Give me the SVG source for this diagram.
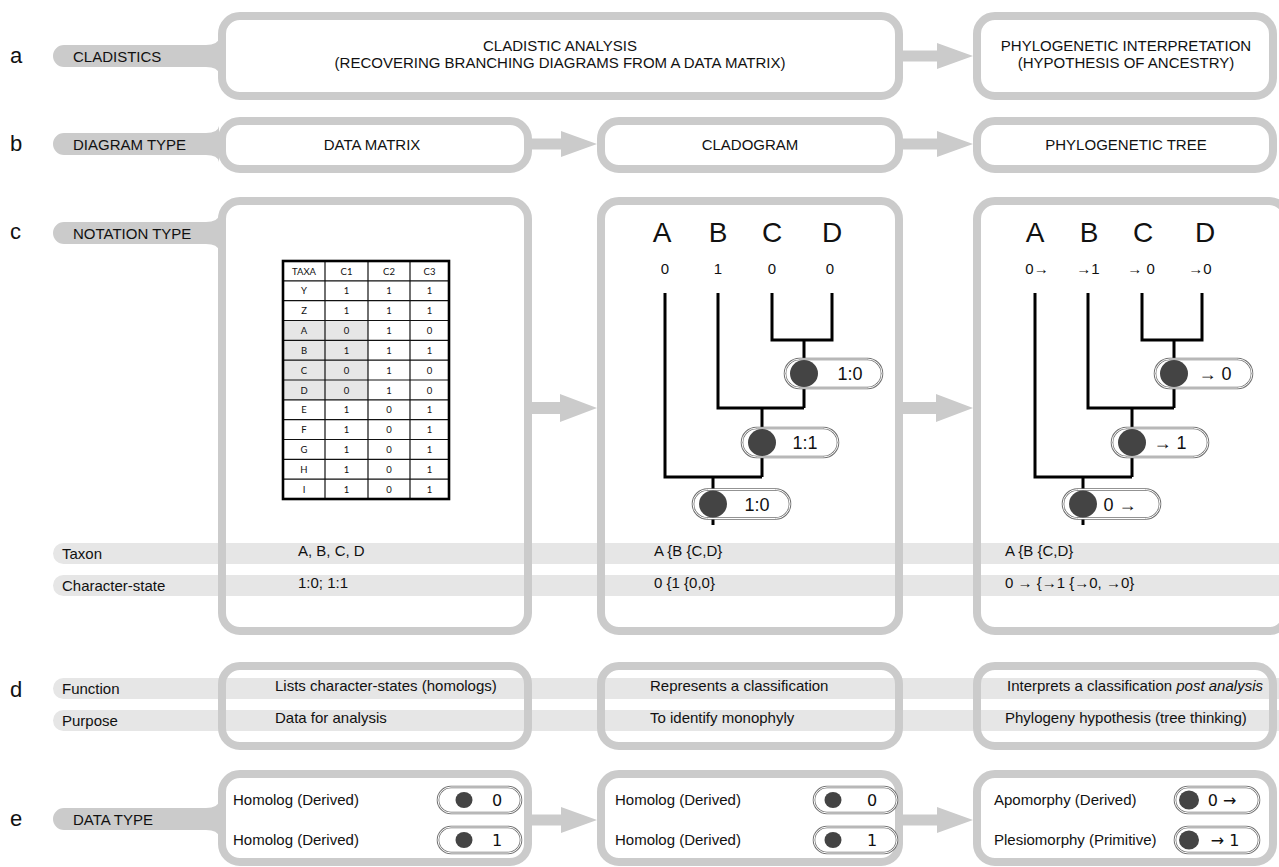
<svg xmlns="http://www.w3.org/2000/svg" width="1279" height="867" viewBox="0 0 1279 867">
<style>
.box{fill:none;stroke:#cbcbcb;stroke-width:8}
.lbl{fill:#cbcbcb}
.band{fill:#e6e6e6}
.arr{fill:#cbcbcb}
.t{font-family:"Liberation Sans",Arial,Helvetica,sans-serif;font-size:15px;fill:#111}
.m{text-anchor:middle}
.let{font-family:"Liberation Sans",Arial,sans-serif;font-size:22px;fill:#111}
.big{font-family:"Liberation Sans",Arial,sans-serif;font-size:28px;fill:#111;text-anchor:middle}
.num{font-family:"Liberation Sans",Arial,sans-serif;font-size:15px;fill:#111;text-anchor:middle}
.pt{font-family:"Liberation Sans",Arial,sans-serif;font-size:18px;fill:#111;text-anchor:middle}
.et{font-family:"DejaVu Sans",sans-serif;font-size:16px;fill:#111;text-anchor:middle}
.tree{fill:none;stroke:#000;stroke-width:3}
.po{fill:#fff;stroke:#707070;stroke-width:2.6}
.pi{fill:none;stroke:#fff;stroke-width:1}
.dot{fill:#444}
.tb{font-family:Lato,"Liberation Sans",sans-serif;font-size:9.5px;fill:#111;text-anchor:middle}
.grid{stroke:#111;stroke-width:1.2;fill:none}
</style>

<g id="bands">
<rect class="band" x="53" y="543" width="1240" height="21" rx="10.5"/>
<rect class="band" x="53" y="575" width="1240" height="21" rx="10.5"/>
<rect class="band" x="53" y="678" width="1240" height="21" rx="10.5"/>
<rect class="band" x="53" y="710" width="1240" height="21" rx="10.5"/>
<text class="t" x="62" y="559">Taxon</text>
<text class="t" x="62" y="591">Character-state</text>
<text class="t" x="62" y="694">Function</text>
<text class="t" x="62" y="726">Purpose</text>
</g>

<g id="row-labels">
<text class="let" x="10" y="63">a</text>
<text class="let" x="10" y="151">b</text>
<text class="let" x="10" y="239">c</text>
<text class="let" x="10" y="697">d</text>
<text class="let" x="10" y="826">e</text>
<path class="lbl" d="M64,45 H206 Q218,45 219,38 V74 Q218,67 206,67 H64 A11,11 0 0 1 64,45 Z"/>
<path class="lbl" d="M64,133 H206 Q218,133 219,126 V162 Q218,155 206,155 H64 A11,11 0 0 1 64,133 Z"/>
<path class="lbl" d="M64,222 H206 Q218,222 219,215 V251 Q218,244 206,244 H64 A11,11 0 0 1 64,222 Z"/>
<path class="lbl" d="M64,808 H206 Q218,808 219,801 V837 Q218,830 206,830 H64 A11,11 0 0 1 64,808 Z"/>
<text class="t" x="73" y="62">CLADISTICS</text>
<text class="t" x="73" y="150">DIAGRAM TYPE</text>
<text class="t" x="73" y="239">NOTATION TYPE</text>
<text class="t" x="73" y="825">DATA TYPE</text>
</g>

<g id="connectors">
<path class="arr" d="M899,50.5 H937 V43 L973,56 L937,69 V61.5 H899 Z"/>
<path class="arr" d="M528,138.5 H561 V131 L597,144 L561,157 V149.5 H528 Z"/>
<path class="arr" d="M899,138.5 H937 V131 L973,144 L937,157 V149.5 H899 Z"/>
<path class="arr" d="M528,402 H560 V394 L597,408 L560,422 V414 H528 Z"/>
<path class="arr" d="M899,402 H936 V394 L973,408 L936,422 V414 H899 Z"/>
<path class="arr" d="M528,814.5 H561 V807 L597,820 L561,833 V825.5 H528 Z"/>
<path class="arr" d="M899,814.5 H937 V807 L973,820 L937,833 V825.5 H899 Z"/>
</g>

<g id="a1">
<rect class="box" x="222" y="16" width="677" height="80" rx="18"/>
<text class="t m" x="560" y="51">CLADISTIC ANALYSIS</text>
<text class="t m" x="560" y="68">(RECOVERING BRANCHING DIAGRAMS FROM A DATA MATRIX)</text>
</g>
<g id="a2">
<rect class="box" x="977" y="16" width="296" height="80" rx="18"/>
<text class="t m" x="1126" y="51">PHYLOGENETIC INTERPRETATION</text>
<text class="t m" x="1126" y="68">(HYPOTHESIS OF ANCESTRY)</text>
</g>

<g id="b1">
<rect class="box" x="222" y="121" width="306" height="48" rx="18"/>
<text class="t m" x="372" y="150">DATA MATRIX</text>
</g>
<g id="b2">
<rect class="box" x="601" y="121" width="298" height="48" rx="18"/>
<text class="t m" x="750" y="150">CLADOGRAM</text>
</g>
<g id="b3">
<rect class="box" x="977" y="121" width="296" height="48" rx="18"/>
<text class="t m" x="1126" y="150">PHYLOGENETIC TREE</text>
</g>

<g id="c1">
<rect class="box" x="222" y="201" width="306" height="430" rx="18"/>
<g id="matrix">
<rect x="283" y="320.5" width="85" height="79.3" fill="#e6e6e6"/>
<path class="grid" d="M325,261 V499 M368,261 V499 M410,261 V499 M283,280.8 H449 M283,300.7 H449 M283,320.5 H449 M283,340.3 H449 M283,360.2 H449 M283,380 H449 M283,399.8 H449 M283,419.7 H449 M283,439.5 H449 M283,459.3 H449 M283,479.2 H449"/>
<rect x="283" y="261" width="166" height="238" fill="none" stroke="#000" stroke-width="2.6"/>
<text class="tb" x="304" y="274.5">TAXA</text><text class="tb" x="346.5" y="274.5">C1</text><text class="tb" x="389" y="274.5">C2</text><text class="tb" x="429.5" y="274.5">C3</text>
<text class="tb" x="304" y="294.3">Y</text><text class="tb" x="346.5" y="294.3">1</text><text class="tb" x="389" y="294.3">1</text><text class="tb" x="429.5" y="294.3">1</text>
<text class="tb" x="304" y="314.1">Z</text><text class="tb" x="346.5" y="314.1">1</text><text class="tb" x="389" y="314.1">1</text><text class="tb" x="429.5" y="314.1">1</text>
<text class="tb" x="304" y="334">A</text><text class="tb" x="346.5" y="334">0</text><text class="tb" x="389" y="334">1</text><text class="tb" x="429.5" y="334">0</text>
<text class="tb" x="304" y="353.8">B</text><text class="tb" x="346.5" y="353.8">1</text><text class="tb" x="389" y="353.8">1</text><text class="tb" x="429.5" y="353.8">1</text>
<text class="tb" x="304" y="373.6">C</text><text class="tb" x="346.5" y="373.6">0</text><text class="tb" x="389" y="373.6">1</text><text class="tb" x="429.5" y="373.6">0</text>
<text class="tb" x="304" y="393.5">D</text><text class="tb" x="346.5" y="393.5">0</text><text class="tb" x="389" y="393.5">1</text><text class="tb" x="429.5" y="393.5">0</text>
<text class="tb" x="304" y="413.3">E</text><text class="tb" x="346.5" y="413.3">1</text><text class="tb" x="389" y="413.3">0</text><text class="tb" x="429.5" y="413.3">1</text>
<text class="tb" x="304" y="433.1">F</text><text class="tb" x="346.5" y="433.1">1</text><text class="tb" x="389" y="433.1">0</text><text class="tb" x="429.5" y="433.1">1</text>
<text class="tb" x="304" y="453">G</text><text class="tb" x="346.5" y="453">1</text><text class="tb" x="389" y="453">0</text><text class="tb" x="429.5" y="453">1</text>
<text class="tb" x="304" y="472.8">H</text><text class="tb" x="346.5" y="472.8">1</text><text class="tb" x="389" y="472.8">0</text><text class="tb" x="429.5" y="472.8">1</text>
<text class="tb" x="304" y="492.6">I</text><text class="tb" x="346.5" y="492.6">1</text><text class="tb" x="389" y="492.6">0</text><text class="tb" x="429.5" y="492.6">1</text>
</g>
<text class="t" x="298" y="556">A, B, C, D</text>
<text class="t" x="298" y="588">1:0; 1:1</text>
</g>

<g id="c2">
<rect class="box" x="601" y="201" width="298" height="430" rx="18"/>
<g id="cladogram">
<text class="big" x="662" y="242">A</text><text class="big" x="718" y="242">B</text><text class="big" x="772" y="242">C</text><text class="big" x="832" y="242">D</text>
<text class="num" x="665" y="274">0</text><text class="num" x="718" y="274">1</text><text class="num" x="772" y="274">0</text><text class="num" x="830" y="274">0</text>
<path class="tree" d="M665,293 V477 H762 M718,293 V408 H804 M772,293 V340 H832 V293 M804,340 V408 M762,408 V477 M713,477 V525"/>
<rect class="po" x="785" y="359" width="97" height="29" rx="14.5"/><rect class="pi" x="785" y="359" width="97" height="29" rx="14.5"/>
<ellipse class="dot" cx="804" cy="373.5" rx="14" ry="13.5"/>
<text class="pt" x="850" y="380">1:0</text>
<rect class="po" x="742" y="428" width="96" height="29" rx="14.5"/><rect class="pi" x="742" y="428" width="96" height="29" rx="14.5"/>
<ellipse class="dot" cx="762" cy="442.5" rx="14" ry="13.5"/>
<text class="pt" x="805" y="449">1:1</text>
<rect class="po" x="693" y="489.5" width="97" height="29" rx="14.5"/><rect class="pi" x="693" y="489.5" width="97" height="29" rx="14.5"/>
<ellipse class="dot" cx="713" cy="504" rx="14" ry="13.5"/>
<text class="pt" x="757" y="510.5">1:0</text>
</g>
<text class="t" x="654" y="556">A {B {C,D}</text>
<text class="t" x="654" y="588">0 {1 {0,0}</text>
</g>

<g id="c3">
<rect class="box" x="977" y="201" width="310" height="430" rx="18"/>
<g id="phylotree" transform="translate(370,0)">
<text class="big" x="665" y="242">A</text><text class="big" x="719" y="242">B</text><text class="big" x="773" y="242">C</text><text class="big" x="835" y="242">D</text>
<text class="num" x="667" y="274">0→</text><text class="num" x="718" y="274">→1</text><text class="num" x="771" y="274">→ 0</text><text class="num" x="830" y="274">→0</text>
<path class="tree" d="M665,293 V477 H762 M718,293 V408 H804 M772,293 V340 H832 V293 M804,340 V408 M762,408 V477 M713,477 V525"/>
<rect class="po" x="785" y="359" width="97" height="29" rx="14.5"/><rect class="pi" x="785" y="359" width="97" height="29" rx="14.5"/>
<ellipse class="dot" cx="804" cy="373.5" rx="14" ry="13.5"/>
<text class="pt" x="845" y="380">→ 0</text>
<rect class="po" x="742" y="428" width="96" height="29" rx="14.5"/><rect class="pi" x="742" y="428" width="96" height="29" rx="14.5"/>
<ellipse class="dot" cx="762" cy="442.5" rx="14" ry="13.5"/>
<text class="pt" x="800" y="449">→ 1</text>
<rect class="po" x="693" y="489.5" width="97" height="29" rx="14.5"/><rect class="pi" x="693" y="489.5" width="97" height="29" rx="14.5"/>
<ellipse class="dot" cx="713" cy="504" rx="14" ry="13.5"/>
<text class="pt" x="750" y="510.5">0 →</text>
</g>
<text class="t" x="1005" y="556">A {B {C,D}</text>
<text class="t" x="1005" y="588">0 → {→1 {→0, →0}</text>
</g>

<g id="d1">
<rect class="box" x="222" y="666" width="306" height="80" rx="18"/>
<text class="t" x="275" y="691">Lists character-states (homologs)</text>
<text class="t" x="275" y="723">Data for analysis</text>
</g>
<g id="d2">
<rect class="box" x="601" y="666" width="298" height="80" rx="18"/>
<text class="t" x="650" y="691">Represents a classification</text>
<text class="t" x="650" y="723">To identify monophyly</text>
</g>
<g id="d3">
<rect class="box" x="977" y="666" width="296" height="80" rx="18"/>
<text class="t" x="1007" y="691">Interprets a classification <tspan font-style="italic">post analysis</tspan></text>
<text class="t" x="1005" y="723">Phylogeny hypothesis (tree thinking)</text>
</g>

<g id="e1">
<rect class="box" x="222" y="774" width="306" height="88" rx="18"/>
<text class="t" x="233" y="805">Homolog (Derived)</text>
<text class="t" x="233" y="845">Homolog (Derived)</text>
<rect class="po" x="438" y="787" width="83" height="26" rx="13"/><rect class="pi" x="438" y="787" width="83" height="26" rx="13"/>
<ellipse class="dot" cx="464" cy="800" rx="8.5" ry="8"/>
<text class="et" x="497" y="806">0</text>
<rect class="po" x="438" y="827" width="83" height="26" rx="13"/><rect class="pi" x="438" y="827" width="83" height="26" rx="13"/>
<ellipse class="dot" cx="464" cy="840" rx="8.5" ry="8"/>
<text class="et" x="497" y="846">1</text>
</g>
<g id="e2">
<rect class="box" x="601" y="774" width="298" height="88" rx="18"/>
<text class="t" x="615" y="805">Homolog (Derived)</text>
<text class="t" x="615" y="845">Homolog (Derived)</text>
<rect class="po" x="814" y="787" width="83" height="26" rx="13"/><rect class="pi" x="814" y="787" width="83" height="26" rx="13"/>
<ellipse class="dot" cx="833" cy="800" rx="8.5" ry="8"/>
<text class="et" x="872" y="806">0</text>
<rect class="po" x="814" y="827" width="83" height="26" rx="13"/><rect class="pi" x="814" y="827" width="83" height="26" rx="13"/>
<ellipse class="dot" cx="833" cy="840" rx="8.5" ry="8"/>
<text class="et" x="872" y="846">1</text>
</g>
<g id="e3">
<rect class="box" x="977" y="774" width="296" height="88" rx="18"/>
<text class="t" x="994" y="805">Apomorphy (Derived)</text>
<text class="t" x="994" y="845">Plesiomorphy (Primitive)</text>
<rect class="po" x="1175" y="787" width="84" height="26" rx="13"/><rect class="pi" x="1175" y="787" width="84" height="26" rx="13"/>
<ellipse class="dot" cx="1189" cy="800" rx="10" ry="9.5"/>
<text class="et" x="1222" y="806">0 →</text>
<rect class="po" x="1175" y="827" width="84" height="26" rx="13"/><rect class="pi" x="1175" y="827" width="84" height="26" rx="13"/>
<ellipse class="dot" cx="1189" cy="840" rx="10" ry="9.5"/>
<text class="et" x="1225" y="846">→ 1</text>
</g>
</svg>
